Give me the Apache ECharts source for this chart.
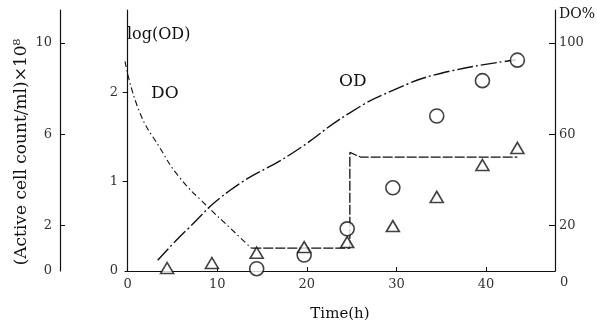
<!DOCTYPE html>
<html>
<head>
<meta charset="utf-8">
<script src="https://cdn.jsdelivr.net/npm/echarts@6/dist/echarts.min.js"></script>
<style>
  html, body { margin: 0; padding: 0; background: #fff; }
  #chart { width: 597px; height: 333px; }
</style>
</head>
<body>
<div id="chart"></div>
<script>
// time (h) and values
const odCurve = [[3.35, 0.12], [6.6, 0.46], [11.4, 0.9], [18.4, 1.32], [24.8, 1.77], [29.6, 2.02], [34.9, 2.21], [43.3, 2.36]]
const doCurve = [[-0.3, 92], [1.3, 70], [3.6, 54], [5.8, 41], [8.8, 28.7], [11.4, 19], [13.8, 10]]
const doStep = [[13.8, 10], [24.8, 10], [24.8, 52], [26, 50], [43.5, 50]]
const circleTimes = [14.4, 19.7, 24.5, 29.6, 34.5, 39.6, 43.5]
const circleCounts = [0.1, 0.7, 1.85, 3.65, 6.8, 8.35, 9.25]
const triangleTimes = [4.4, 9.4, 14.4, 19.7, 24.5, 29.6, 34.5, 39.6, 43.5]
const triangleCounts = [0.13, 0.35, 0.8, 1.05, 1.27, 1.97, 3.25, 4.65, 5.4]

const xTicks = [10, 20, 30, 40]
const xLabels = [0, 10, 20, 30, 40]
const odLabels = [0, 1, 2]
const cellLabels = [0, 2, 6, 10]
const doLabels = [20, 60, 100]

const font = '"DejaVu Serif", "Liberation Serif", serif'
const ink = '#111'
const grey = '#333'

const pair = (xs, ys) => xs.map((x, i) => [x, ys[i]])

const chart = echarts.init(document.getElementById('chart'))

chart.setOption({
  backgroundColor: '#fff',
  animation: false,
  textStyle: { fontFamily: font, color: ink },
  grid: { left: 125, right: 42, top: 10, bottom: 62 },
  xAxis: {
    type: 'value',
    min: -0.3,
    max: 47.7,
    name: 'Time(h)',
    nameLocation: 'middle',
    nameGap: 36,
    nameTextStyle: { fontFamily: font, fontSize: 15, color: ink },
    splitLine: { show: false },
    axisLine: { lineStyle: { color: ink, width: 1.2 } },
    axisTick: { inside: true, length: 4, customValues: xTicks, lineStyle: { color: ink } },
    axisLabel: { customValues: xLabels, margin: 7, fontSize: 13, color: grey, fontFamily: font }
  },
  yAxis: [
    {
      type: 'value',
      min: 0,
      max: 2.92,
      position: 'left',
      splitLine: { show: false },
      axisLine: { show: true, lineStyle: { color: ink, width: 1.2 } },
      axisTick: { show: true, length: 5, customValues: [1, 2], lineStyle: { color: ink } },
      axisLabel: { customValues: odLabels, margin: 7, fontSize: 13, color: grey, fontFamily: font }
    },
    {
      type: 'value',
      min: 0,
      max: 11.45,
      position: 'left',
      offset: 65,
      splitLine: { show: false },
      axisLine: { show: true, lineStyle: { color: ink, width: 1.2 } },
      axisTick: { show: true, inside: true, length: 5, customValues: [2, 6, 10], lineStyle: { color: ink } },
      axisLabel: { customValues: cellLabels, margin: 8, fontSize: 13, color: grey, fontFamily: font }
    },
    {
      type: 'value',
      min: 0,
      max: 114.5,
      position: 'right',
      splitLine: { show: false },
      axisLine: { show: true, lineStyle: { color: ink, width: 1.2 } },
      axisTick: { show: true, inside: true, length: 6, customValues: doLabels, lineStyle: { color: ink } },
      axisLabel: { customValues: doLabels, margin: 4, fontSize: 13, color: grey, fontFamily: font }
    }
  ],
  series: [
    {
      name: 'OD',
      type: 'line',
      yAxisIndex: 0,
      data: odCurve,
      smooth: 0.5,
      symbol: 'none',
      lineStyle: { color: ink, width: 1.4, type: [16, 3, 2, 3] }
    },
    {
      name: 'DO',
      type: 'line',
      yAxisIndex: 2,
      data: doCurve,
      smooth: 0.5,
      symbol: 'none',
      lineStyle: { color: ink, width: 1.1, type: [6, 3, 1.5, 3] }
    },
    {
      name: 'DO step',
      type: 'line',
      yAxisIndex: 2,
      data: doStep,
      symbol: 'none',
      lineStyle: { color: ink, width: 1.3, type: [10, 2] }
    },
    {
      name: 'circles',
      type: 'scatter',
      yAxisIndex: 1,
      data: pair(circleTimes, circleCounts),
      symbol: 'circle',
      symbolSize: 14,
      itemStyle: { color: '#fff', borderColor: ink, borderWidth: 1.6 },
      z: 5
    },
    {
      name: 'triangles',
      type: 'scatter',
      yAxisIndex: 1,
      data: pair(triangleTimes, triangleCounts),
      symbol: 'triangle',
      symbolSize: [13, 11],
      itemStyle: { color: '#fff', borderColor: ink, borderWidth: 1.6 },
      z: 6
    }
  ],
  graphic: [
    {
      type: 'text', x: 22, y: 152, rotation: Math.PI / 2,
      style: { text: '(Active cell count/ml)×10⁸', font: '17px ' + font, fill: ink, align: 'center', verticalAlign: 'middle' }
    },
    { type: 'text', left: 127, top: 27, style: { text: 'log(OD)', font: '16px ' + font, fill: ink } },
    { type: 'text', left: 151, top: 85, style: { text: 'DO', font: '17px ' + font, fill: ink } },
    { type: 'text', left: 339, top: 73, style: { text: 'OD', font: '17px ' + font, fill: ink } },
    { type: 'text', left: 559, top: 7, style: { text: 'DO%', font: '14px ' + font, fill: ink } },
    { type: 'text', left: 560, top: 276, style: { text: '0', font: '13px ' + font, fill: grey } }
  ]
})
</script>
</body>
</html>
